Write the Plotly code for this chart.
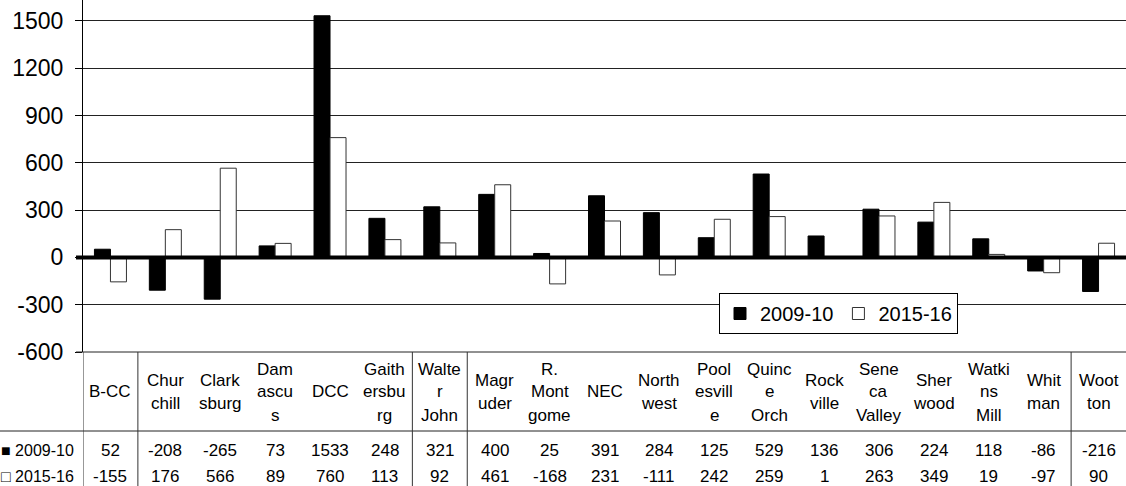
import plotly.graph_objects as go

# ---------------- data ----------------
categories = ["B-CC", "Churchill", "Clarksburg", "Damascus", "DCC", "Gaithersburg",
              "Walter Johnson", "Magruder", "R. Montgomery", "NEC", "Northwest",
              "Poolesville", "Quince Orchard", "Rockville", "Seneca Valley",
              "Sherwood", "Watkins Mill", "Whitman", "Wootton"]
header_labels = ["B-CC", "Chur<br>chill", "Clark<br>sburg", "Dam<br>ascu<br>s", "DCC",
                 "Gaith<br>ersbu<br>rg", "Walte<br>r<br>John", "Magr<br>uder",
                 "R.<br>Mont<br>gome", "NEC", "North<br>west", "Pool<br>esvill<br>e",
                 "Quinc<br>e<br>Orch", "Rock<br>ville", "Sene<br>ca<br>Valley",
                 "Sher<br>wood", "Watki<br>ns<br>Mill", "Whit<br>man", "Woot<br>ton"]
v2009 = [52, -208, -265, 73, 1533, 248, 321, 400, 25, 391, 284, 125, 529, 136, 306, 224, 118, -86, -216]
v2015 = [-155, 176, 566, 89, 760, 113, 92, 461, -168, 231, -111, 242, 259, 1, 263, 349, 19, -97, 90]
series_names = ["2009-10", "2015-16"]
row_labels = ["\u25A0 2009-10", "\u25A1 2015-16"]
y_ticks = [-600, -300, 0, 300, 600, 900, 1200, 1500]
y_tick_text = ["-600", "-300", "0", "300", "600", "900", "1200", "1500"]

# ---------------- layout constants ----------------
W, H = 1126, 486
L = 83               # left margin (px)
PB = 352             # plot-area bottom (px from top)
PW = W - L           # plot width
FONT = "Liberation Sans, Arial, sans-serif"
TFS = 17             # table font size


def py(px):
    """pixel row (from top) -> paper y"""
    return (PB - px) / PB


def pxx(px):
    """pixel column -> paper x"""
    return (px - L) / PW


fig = go.Figure()
fig.add_trace(go.Bar(x=categories, y=v2009, name=series_names[0],
                     marker=dict(color="black", line=dict(color="black", width=1))))
fig.add_trace(go.Bar(x=categories, y=v2015, name=series_names[1],
                     marker=dict(color="white", line=dict(color="#333333", width=1))))

annotations = []
shapes = []

# header row (category names, wrapped)
line_h = 23
header_center = 392
for cat, lab in zip(categories, header_labels):
    lines = lab.split("<br>")
    n = len(lines)
    for i, ln in enumerate(lines):
        ypx = header_center + (i - (n - 1) / 2) * line_h
        annotations.append(dict(x=cat, xref="x", y=py(ypx), yref="paper", text=ln,
                                showarrow=False, xanchor="center", yanchor="middle",
                                font=dict(family=FONT, size=TFS, color="black")))

# value rows
row_y = [450, 476]
for vals, ry in zip([v2009, v2015], row_y):
    for cat, v in zip(categories, vals):
        annotations.append(dict(x=cat, xref="x", y=py(ry), yref="paper", text=str(v),
                                showarrow=False, xanchor="center", yanchor="middle",
                                font=dict(family=FONT, size=TFS, color="black")))

# row labels (legend keys)
for lab, ry in zip(row_labels, row_y):
    annotations.append(dict(x=pxx(76), xref="paper", y=py(ry), yref="paper", text=lab,
                            showarrow=False, xanchor="right", yanchor="middle",
                            font=dict(family=FONT, size=TFS - 1, color="black")))

# table lines
shapes.append(dict(type="line", xref="paper", yref="paper", x0=pxx(0), x1=1,
                   y0=py(431), y1=py(431), line=dict(color="#222222", width=1)))
shapes.append(dict(type="line", xref="paper", yref="paper", x0=pxx(76), x1=1,
                   y0=py(PB), y1=py(PB), line=dict(color="#222222", width=1)))
for bx in [-0.5, 0.5, 5.5, 6.5, 17.5]:
    shapes.append(dict(type="line", xref="x", yref="paper", x0=bx, x1=bx,
                       y0=0, y1=py(H), line=dict(color="#333333", width=1)))

# thick zero line
shapes.append(dict(type="line", xref="paper", yref="y", x0=pxx(76), x1=1,
                   y0=0, y1=0, line=dict(color="black", width=4), layer="above"))

fig.update_layout(
    width=W, height=H,
    margin=dict(l=L, r=0, t=0, b=H - PB, pad=0),
    plot_bgcolor="white", paper_bgcolor="white",
    barmode="group", bargap=0.417, bargroupgap=0,
    font=dict(family=FONT, color="black"),
    showlegend=True,
    legend=dict(orientation="h", x=pxx(719), y=py(293), xanchor="left", yanchor="top",
                bordercolor="black", borderwidth=1, bgcolor="white",
                font=dict(family=FONT, size=20, color="black"),
                itemwidth=30, tracegroupgap=0),
    annotations=annotations,
    shapes=shapes,
)
fig.update_xaxes(showticklabels=False, showgrid=False, zeroline=False, showline=False,
                 ticks="", range=[-0.5, len(categories) - 0.5])
fig.update_yaxes(range=[-600, 1633], tickvals=y_ticks, ticktext=y_tick_text,
                 showgrid=True, gridcolor="#222222", gridwidth=1,
                 zeroline=False, showline=True, linecolor="black", linewidth=1,
                 ticks="outside", ticklen=7, tickcolor="black",
                 ticklabelstandoff=7,
                 tickfont=dict(family=FONT, size=23, color="black"))

fig.write_html("out.html", config={"displayModeBar": False},
               post_script="document.body.style.margin='0px';document.body.style.overflow='hidden';")
